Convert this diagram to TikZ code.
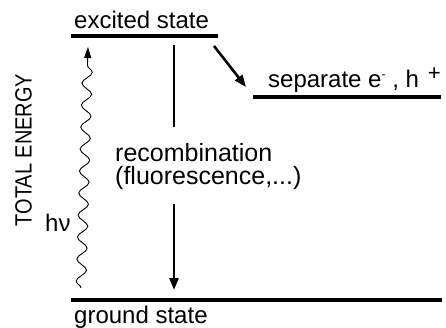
\documentclass[tikz,border=0pt]{standalone}
\usepackage{fontspec}
\setmainfont{Liberation Sans}
\usetikzlibrary{arrows.meta,decorations.pathmorphing}
\begin{document}
\begin{tikzpicture}[x=1pt,y=-1pt,
  level/.style={line width=4.5pt},
  transfer/.style={line width=2.6pt,-{Triangle[length=12pt,width=9pt]}},
  plainline/.style={line width=2.6pt},
  lbl/.style={inner sep=0pt,anchor=base west,font=\fontsize{24}{24}\selectfont},
  photon/.style={line width=0.9pt,decorate,
    decoration={snake,amplitude=5pt,segment length=22pt,post length=8pt},
    -{Triangle[length=11pt,width=7pt]}}]
\useasboundingbox (0,0) rectangle (446,327);

% energy levels
\coordinate (exL) at (71,36);  \coordinate (exR) at (218,36);
\coordinate (spL) at (253,97); \coordinate (spR) at (441,97);
\coordinate (gsL) at (71,300); \coordinate (gsR) at (442,300);
\draw[level] (exL) -- (exR);
\draw[level] (spL) -- (spR);
\draw[level] (gsL) -- (gsR);

% labels
\node[lbl] (exlabel) at (74,28) {excited state};
\node[lbl] (seplabel) at (268,87) {separate e\raisebox{9pt}{\fontsize{12}{12}\selectfont -} , h\hspace{9pt}\raisebox{7pt}{\fontsize{22}{22}\selectfont +}};
\node[inner sep=0pt,anchor=north west,align=left,font=\fontsize{25}{23}\selectfont]
  (rec) at (115,143) {recombination\\(fluorescence,...)};
\node[lbl] (gslabel) at (74,323) {ground state};
\node[lbl] (hnu) at (45,231) {hν};
\node[inner sep=0pt,rotate=90,font=\fontsize{23.5}{23.5}\selectfont] (axis) at (23.5,150) {\scalebox{0.85}[1]{TOTAL ENERGY}};

% charge separation
\coordinate (sepA) at (214,46); \coordinate (sepB) at (246,87);
\draw[transfer] (sepA) -- (sepB);

% recombination, interrupted by its label
\coordinate (recA) at (174,45);  \coordinate (recB) at (174,127);
\coordinate (recC) at (174,204); \coordinate (recD) at (174,290);
\draw[plainline] (recA) -- (recB);
\draw[transfer] (recC) -- (recD);

% absorbed photon
\coordinate (phA) at (81,288); \coordinate (phB) at (88,47);
\draw[photon] (phA) -- (phB);
\end{tikzpicture}
\end{document}
